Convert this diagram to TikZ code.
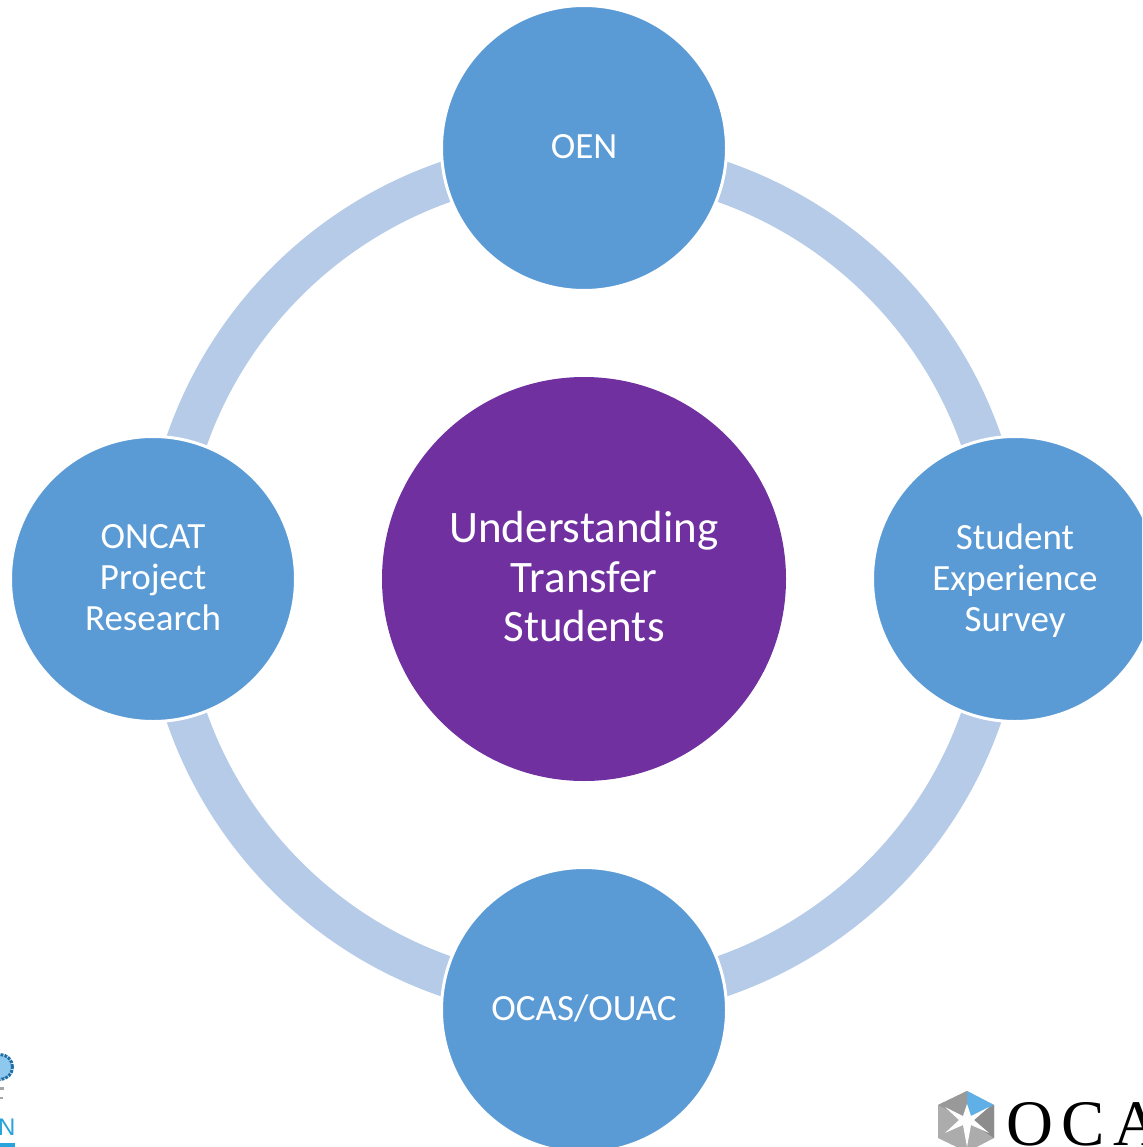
\documentclass[tikz,border=0pt]{standalone}
\usepackage{fontspec}
\setmainfont{Carlito}
\newfontfamily\logoserif[LetterSpace=13]{Liberation Serif}
\newfontfamily\logosans{Liberation Sans}
\definecolor{satblue}{HTML}{5B9BD5}
\definecolor{ringblue}{HTML}{B6CBE8}
\definecolor{hubpurple}{HTML}{7030A0}
\definecolor{logocyan}{HTML}{29A3DC}
\definecolor{logodark}{HTML}{1F6FA8}
\definecolor{logosky}{HTML}{5FB0E6}
\tikzset{
  disc/.style={circle,fill=satblue,draw=white,line width=3pt,minimum size=285pt,inner sep=0pt},
  disclabel/.style={text=white,align=center,inner sep=0pt,font=\fontsize{37}{41}\selectfont},
  hubdisc/.style={circle,fill=hubpurple,minimum size=404pt,inner sep=0pt},
  hublabel/.style={text=white,align=center,inner sep=0pt,font=\fontsize{45}{49.5}\selectfont},
  ringband/.style={draw=ringblue,line width=41pt}
}
\begin{document}
\begin{tikzpicture}[x=1pt,y=-1pt]
\useasboundingbox (0,0) rectangle (1142,1147);
\clip (0,0) rectangle (1142,1147);
\fill[white] (0,0) rectangle (1142,1147);
\coordinate (centre) at (584,579);
\draw[ringband] (centre) circle[radius=420.5pt];
\node[hubdisc,label={[hublabel,name=corelabel,yshift=2pt]center:{Understanding\\Transfer\\Students}}] (core) at (centre) {};
\node[disc,label={[disclabel,name=oenlabel,yshift=1pt]center:{OEN}}] (oen) at (584,148) {};
\node[disc,label={[disclabel,name=surveylabel,yshift=-2pt]center:{Student\\Experience\\Survey}}] (survey) at (1015,579) {};
\node[disc,label={[disclabel,name=ocaslabel,yshift=2pt]center:{OCAS/OUAC}}] (ocas) at (584,1010) {};
\node[disc,label={[disclabel,name=oncatlabel,yshift=1pt]center:{ONCAT\\Project\\Research}}] (oncat) at (153,579) {};
% left logo fragment
\fill[logosky!70!white] (0,1067) circle[radius=12pt];
\draw[logodark,line width=3pt,dash pattern=on 3pt off 1pt] (0,1067) circle[radius=12.5pt];
\fill[gray!70] (0,1086.5) rectangle (4,1090);
\fill[gray!70] (0,1096.5) rectangle (2.5,1099);
\node[anchor=base west,inner sep=0pt,text=logocyan,font=\logosans\fontsize{24}{24}\selectfont] (logoN) at (-2,1135) {N};
\fill[logocyan] (0,1143) rectangle (15,1147);
% right logo fragment
\fill[gray!65] (967,1091) -- (994,1105) -- (994,1138) -- (967,1152) -- (938,1138) -- (938,1105) -- cycle;
\fill[logosky] (967,1091) -- (994,1105) -- (967,1120) -- cycle;
\fill[gray!80] (938,1105) -- (967,1091) -- (967,1120) -- cycle;
\fill[gray!90] (994,1105) -- (994,1138) -- (967,1120) -- cycle;
\fill[white] (967,1104) -- (971,1116) -- (989,1107) -- (974,1120) -- (989,1133) -- (971,1125) -- (967,1147) -- (963,1125) -- (945,1133) -- (959,1120) -- (945,1107) -- (963,1116) -- cycle;
\node[anchor=base west,inner sep=0pt,text=black,font=\logoserif\fontsize{65}{65}\selectfont] (logoOCA) at (1006,1145) {OCA};
\end{tikzpicture}
\end{document}
